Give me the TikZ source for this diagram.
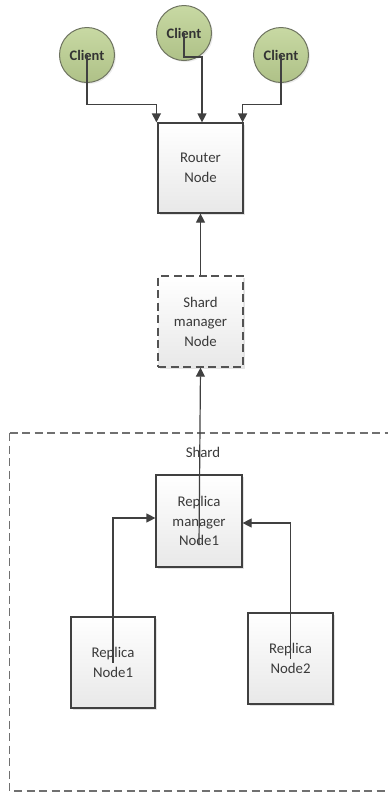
\documentclass[tikz,border=0pt]{standalone}
\usepackage{fontspec}
\setmainfont{Carlito}
\usetikzlibrary{arrows.meta,shadows}
\definecolor{linegray}{HTML}{404040}
\definecolor{textgray}{HTML}{3A3A3A}
\definecolor{clientfill}{HTML}{BED293}
\definecolor{clientedge}{HTML}{6E7360}
\tikzset{
  x=1pt, y=-1pt,
  box/.style={draw=linegray, line width=1.2pt, top color=white, bottom color=black!9,
    minimum width=85pt, minimum height=91pt, align=center, text=textgray,
    font=\fontsize{14.8}{19.5}\selectfont,
    drop shadow={shadow xshift=2pt, shadow yshift=-2pt, fill=black!18, opacity=0.6}},
  client/.style={circle, draw=clientedge, line width=1pt, top color=clientfill!85!white,
    bottom color=clientfill!92!black, minimum size=55pt, inner sep=0pt,
    font=\bfseries\fontsize{14.5}{16}\selectfont, text=black!80,
    drop shadow={shadow xshift=1.5pt, shadow yshift=-1.5pt, fill=black!15, opacity=0.5}},
  arr/.style={draw=linegray, line width=1.2pt, -{Triangle[length=9pt,width=9pt]}},
  dashbox/.style={draw=linegray!90, line width=1.3pt, dash pattern=on 8pt off 4.5pt},
  groupline/.style={draw=linegray!75, line width=1.3pt, dash pattern=on 8pt off 4.5pt},
}
\begin{document}
\begin{tikzpicture}
\useasboundingbox (0,0) rectangle (388,793);

% clients
\node[client] (c1) at (87,55) {Client};
\node[client] (c2) at (184,33) {Client};
\node[client] (c3) at (281,55) {Client};

% router and shard manager
\node[box, minimum height=90pt] (router) at (200.5,168) {Router\\Node};
\node[box, dashbox] (shardmgr) at (200.5,321.5) {Shard\\manager\\Node};

% shard group
\draw[groupline] (9.5,433) -- (400,433);
\draw[groupline] (9.5,433) -- (9.5,791) -- (400,791);
\node[text=textgray, font=\fontsize{14.8}{16}\selectfont] (shardlbl) at (203,452) {Shard};

\node[box, minimum width=86pt, minimum height=92pt] (replmgr) at (199,521) {Replica\\manager\\Node1};
\node[box, minimum width=84pt] (rep1) at (113,662.5) {Replica\\Node1};
\node[box] (rep2) at (290.5,658.5) {Replica\\Node2};

% connectors
\coordinate (c2turn) at (184,57);
\coordinate (rmtail) at (199,545);
\draw[arr] (c1.center) |- ([yshift=18pt,xshift=-1pt]router.north west) -- ([xshift=-1pt]router.north west);
\draw[arr] (c2.center) -- (c2turn) -| ([xshift=1.5pt]router.north);
\draw[arr] (c3.center) |- ([yshift=18pt,xshift=-1pt]router.north east) -- ([xshift=-1pt]router.north east);
\draw[arr] (shardmgr.north) -- (router.south);
\draw[arr] (rmtail) -- (shardmgr.south);
\draw[arr] (rep1.center) |- ([yshift=3pt]replmgr.west);
\draw[arr] (rep2.center) |- ([yshift=-2pt]replmgr.east);
\end{tikzpicture}
\end{document}
